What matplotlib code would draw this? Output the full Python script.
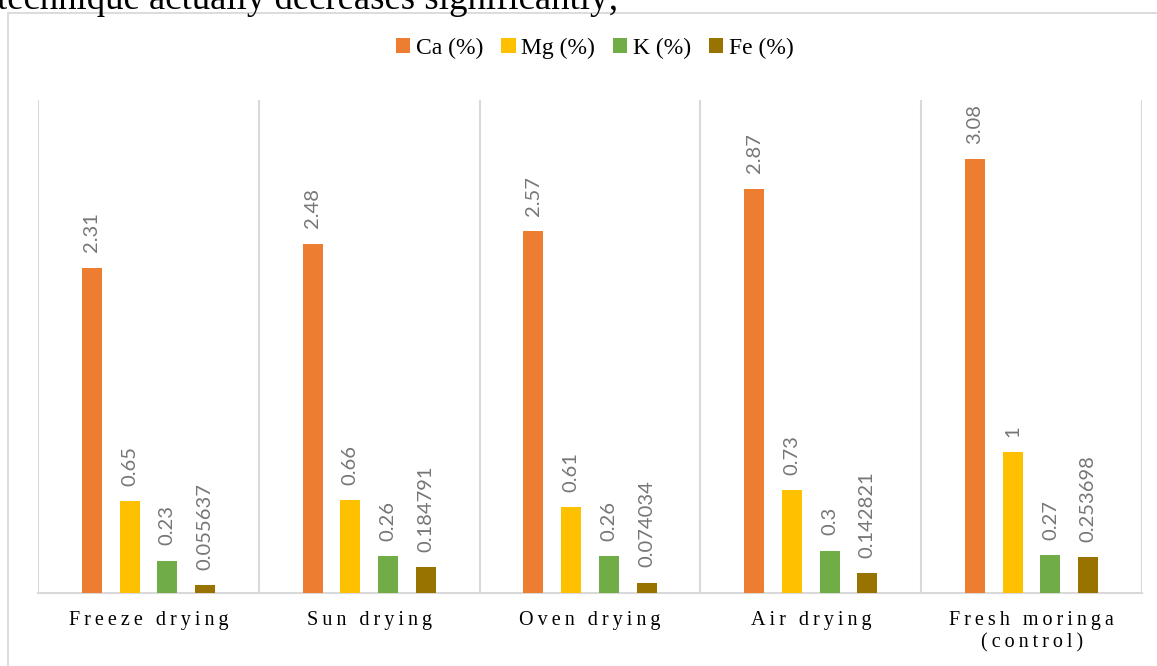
import numpy as np
import matplotlib
matplotlib.use("Agg")
import matplotlib.pyplot as plt
from matplotlib.patches import Rectangle

methods = ["Freeze drying", "Sun drying", "Oven drying", "Air drying", "Fresh moringa\n(control)"]
series = ["Ca (%)", "Mg (%)", "K (%)", "Fe (%)"]
ca = [2.31, 2.48, 2.57, 2.87, 3.08]
mg = [0.65, 0.66, 0.61, 0.73, 1]
k = [0.23, 0.26, 0.26, 0.3, 0.27]
fe = [0.055637, 0.184791, 0.074034, 0.142821, 0.253698]
colors = ["#ED7D31", "#FFC000", "#70AD47", "#997300"]

serif = ["Liberation Serif", "DejaVu Serif"]


def spaced(s):
    # fake letter spacing with thin spaces
    return "\n".join("\u2009".join(line) for line in s.split("\n"))


fig = plt.figure(figsize=(11.57, 6.66), dpi=100)
W, H = 1157, 666

# cut-off sentence from the page above the chart
fig.text(-0.003, 1 - 9 / H, "technique actually decreases significantly;",
         family=serif, fontsize=26.5, va="baseline", ha="left")

# chart frame
fig.patches.append(Rectangle((8 / W, -0.1), 1.2, 1 - 12.5 / H + 0.1,
                             transform=fig.transFigure, fill=False,
                             edgecolor="#d9d9d9", linewidth=1.3))

ax = fig.add_axes([38 / W, (H - 593) / H, (1142 - 38) / W, (593 - 100) / H])
ax.set_xlim(0, 5)
ax.set_ylim(0, 3.5)

x = np.arange(len(methods)) + 0.5
step = 0.1707
width = 0.0906
for i, (vals, name) in enumerate(zip([ca, mg, k, fe], series)):
    pos = x + (i - 1.5) * step
    bars = ax.bar(pos, vals, width, color=colors[i], label=name, zorder=3)
    for b, v in zip(bars, vals):
        ax.annotate(f"{v:g}", (b.get_x() + b.get_width() / 2, v),
                    xytext=(0, 11), textcoords="offset points",
                    rotation=90, ha="center", va="bottom",
                    fontsize=14.5, color="#767676", family=["Lato", "DejaVu Sans"])

ax.vlines(np.arange(len(methods) + 1), 0, 3.5, color="#d9d9d9", linewidth=1.5, zorder=1)

for s in ["top", "right", "left"]:
    ax.spines[s].set_visible(False)
ax.spines["bottom"].set_color("#d9d9d9")
ax.spines["bottom"].set_linewidth(1.5)
ax.set_yticks([])
ax.set_xticks(x)
ax.set_xticklabels([spaced(m) for m in methods], family=serif, fontsize=14.5,
                   linespacing=1.2)
ax.tick_params(axis="x", length=0, pad=13)

fig.legend(loc="center", bbox_to_anchor=(595 / W, 1 - 48 / H), ncol=4,
           frameon=False, prop={"family": serif, "size": 17},
           handlelength=0.6, handleheight=0.6, handletextpad=0.25,
           columnspacing=0.75)

fig.savefig("out.png", dpi=100)
